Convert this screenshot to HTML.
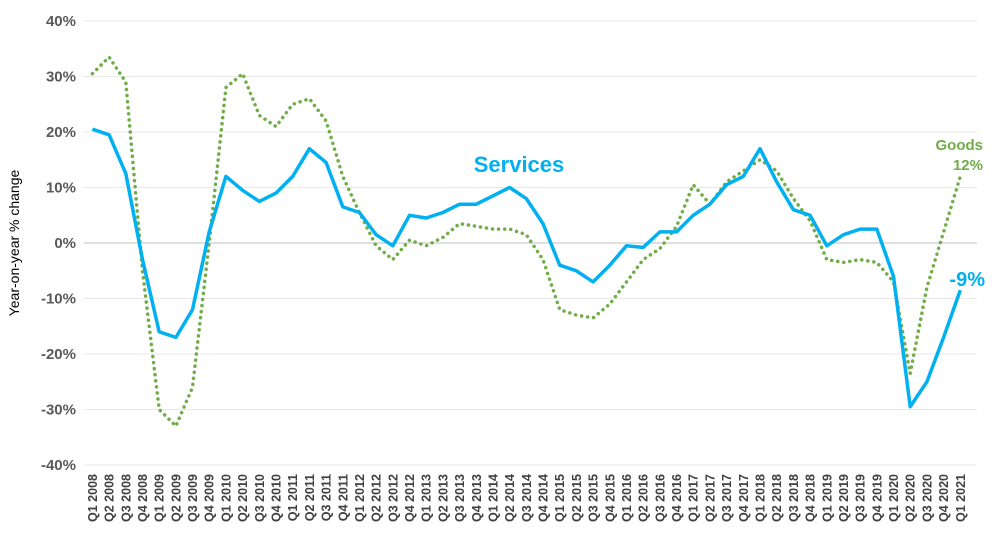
<!DOCTYPE html>
<html><head><meta charset="utf-8"><style>
html,body{margin:0;padding:0;background:#fff;}
svg{display:block;font-family:"Liberation Sans",sans-serif;}
</style></head><body>
<svg width="1000" height="546" viewBox="0 0 1000 546" xmlns="http://www.w3.org/2000/svg">
<g id="grid"></g>
<g id="yl" font-size="15" font-weight="bold" fill="#595959" text-anchor="end"></g>
<g id="xl" font-size="12.5" font-weight="bold" fill="#404040"></g>
<text x="0" y="0" transform="translate(19,243) rotate(-90)" text-anchor="middle" font-size="14" fill="#000">Year-on-year % change</text>
<polyline id="goods" fill="none" stroke="#70AD47" stroke-width="3.5" stroke-dasharray="0.1 6" stroke-linecap="round" stroke-linejoin="round"/>
<polyline id="serv" fill="none" stroke="#00B0F0" stroke-width="3.5" stroke-linejoin="round"/>
<text x="519" y="172" text-anchor="middle" font-size="22" font-weight="bold" fill="#00B0F0">Services</text>
<text x="983" y="150" text-anchor="end" font-size="15" font-weight="bold" fill="#70AD47">Goods</text>
<text x="983" y="170" text-anchor="end" font-size="15" font-weight="bold" fill="#70AD47">12%</text>
<text x="985" y="286" text-anchor="end" font-size="20" font-weight="bold" fill="#00B0F0">-9%</text>
</svg>
<script>
var x0=84,x1=977,n=53;
function X(i){return 92.4+16.69*i;}
function Y(v){return 243-v*5.55;}
var g=document.getElementById('grid'),yl=document.getElementById('yl'),xl=document.getElementById('xl');
var s='',t='';
for(var v=-40;v<=40;v+=10){var y=Y(v);s+='<line x1="'+x0+'" x2="'+x1+'" y1="'+y+'" y2="'+y+'" stroke="'+(v==0?'#bfbfbf':'#e8e8e8')+'" stroke-width="1"/>';
t+='<text x="76" y="'+(y+5)+'">'+v+'%</text>';}
g.innerHTML=s;yl.innerHTML=t;
var lx='';
for(var i=0;i<n;i++){var q=i%4+1,yr=2008+Math.floor(i/4);
lx+='<text transform="translate('+(X(i)+4.5)+',474) rotate(-90)" text-anchor="end">Q'+q+' '+yr+'</text>';}
xl.innerHTML=lx;
var S=[20.5,19.5,12.5,-3,-16,-17,-12,2,12,9.5,7.5,9,12,17,14.5,6.5,5.5,1.5,-0.5,5,4.5,5.5,7,7,8.5,10,8,3.5,-4,-5,-7,-4,-0.5,-0.8,2,2,5,7,10.5,12,17,11,6,5,-0.5,1.5,2.5,2.5,-6,-29.5,-25,-17,-8.5];
var G=[30.5,33.5,29,-5,-30,-33,-26,0,28,30.5,23,21,25,26,22,12,5.5,-0.5,-3,0.5,-0.5,1,3.5,3,2.5,2.5,1.5,-3,-12,-13,-13.5,-11,-7,-3,-1,3,10.5,7,11,13,15,13,8,4,-3,-3.5,-3,-3.5,-7,-23.5,-8,2,12];
function pts(a){return a.map(function(v,i){return X(i).toFixed(1)+','+Y(v).toFixed(1);}).join(' ');}
document.getElementById('serv').setAttribute('points',pts(S));
document.getElementById('goods').setAttribute('points',pts(G));
</script>
</body></html>
